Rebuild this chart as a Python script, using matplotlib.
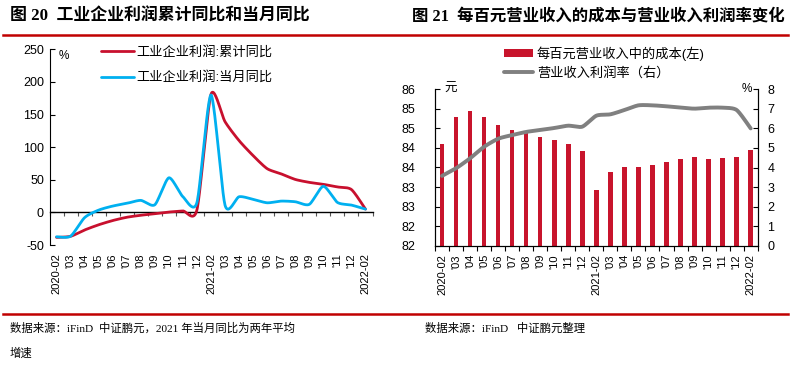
import numpy as np
import matplotlib
matplotlib.use("Agg")
import matplotlib.pyplot as plt
from matplotlib.patches import Patch
from matplotlib.lines import Line2D

plt.rcParams['font.family'] = ['Liberation Sans', 'Noto Sans CJK SC']
plt.rcParams['axes.unicode_minus'] = True

# ---------------- data ----------------
months = ['2020-02', "'03", "'04", "'05", "'06", "'07", "'08", "'09", "'10", "'11", "'12",
          '2021-02', "'03", "'04", "'05", "'06", "'07", "'08", "'09", "'10", "'11", "'12",
          '2022-02']
profit_cum = [-38.3, -36.7, -27.0, -19.0, -12.5, -7.5, -4.4, -2.2, 0.5, 2.2, 4.1,
              181.0, 139.0, 110.0, 87.0, 67.0, 59.0, 50.5, 46.0, 43.0, 39.0, 35.0, 5.0]
profit_month = [-37.4, -36.5, -8.0, 3.5, 9.7, 13.8, 18.4, 11.7, 53.0, 24.0, 15.3,
                180.0, 11.0, 24.0, 20.0, 14.7, 17.3, 16.3, 12.3, 40.0, 15.3, 11.2, 5.0]
cost_per100 = [84.60, 85.29, 85.45, 85.30, 85.09, 84.97, 84.88, 84.77, 84.71, 84.60, 84.42,
               83.43, 83.88, 84.00, 84.00, 84.06, 84.15, 84.21, 84.26, 84.22, 84.25, 84.27, 84.44]
margin = [3.57, 3.96, 4.47, 5.06, 5.47, 5.66, 5.82, 5.92, 6.02, 6.14, 6.09,
          6.65, 6.72, 6.94, 7.18, 7.18, 7.13, 7.06, 7.01, 7.06, 7.06, 6.94, 6.00]
left_yticks = [-50, 0, 50, 100, 150, 200, 250]
right_yticks_l = [82, 82.5, 83, 83.5, 84, 84.5, 85, 85.5, 86]
right_yticklabels_l = ['82', '82', '83', '83', '84', '84', '85', '85', '86']
right_yticks_r = [0, 1, 2, 3, 4, 5, 6, 7, 8]

RED = '#C8102E'
BLUE = '#00B0F0'
GRAY = '#808080'
BAR = '#C8142C'


def smooth(x, y, n=24, k=0.36):
    """Cardinal-spline rendering of a line through the given points."""
    x = np.asarray(x, float)
    y = np.asarray(y, float)
    px = np.concatenate([[x[0]], x, [x[-1]]])
    py = np.concatenate([[y[0]], y, [y[-1]]])
    t = np.linspace(0, 1, n, endpoint=False)
    h00 = 2 * t ** 3 - 3 * t ** 2 + 1
    h10 = t ** 3 - 2 * t ** 2 + t
    h01 = -2 * t ** 3 + 3 * t ** 2
    h11 = t ** 3 - t ** 2
    xs, ys = [], []
    for i in range(1, len(px) - 2):
        for p, out in ((px, xs), (py, ys)):
            p0, p1, p2, p3 = p[i - 1], p[i], p[i + 1], p[i + 2]
            m1 = k * (p2 - p0)
            m2 = k * (p3 - p1)
            out.append(h00 * p1 + h10 * m1 + h01 * p2 + h11 * m2)
    xs.append([x[-1]])
    ys.append([y[-1]])
    return np.concatenate(xs), np.concatenate(ys)


fig = plt.figure(figsize=(7.9, 3.7), dpi=100)
W, H = 790, 370


def fx(px):
    return px / W


def fy(py):
    return 1 - py / H


x = np.arange(len(months))

# ---------------- titles & rules ----------------
title_font = ['Liberation Serif', 'Noto Sans CJK SC']
fig.text(fx(10), fy(17), '图 20  工业企业利润累计同比和当月同比', fontsize=12.2, fontweight='bold',
         family=title_font, va='center', ha='left')
fig.text(fx(412), fy(17), '图 21  每百元营业收入的成本与营业收入利润率变化', fontsize=11.8, fontweight='bold',
         family=title_font, va='center', ha='left')
fig.add_artist(Line2D([fx(3), fx(788)], [fy(35), fy(35)], color='#C00000', lw=1.8))
fig.add_artist(Line2D([fx(3), fx(788)], [fy(314), fy(314)], color='#C00000', lw=1.8))

src_font = ['Liberation Serif', 'Noto Sans CJK SC']
fig.text(fx(10), fy(328), '数据来源：iFinD  中证鹏元，2021 年当月同比为两年平均', fontsize=8.2,
         family=src_font, va='center', ha='left')
fig.text(fx(10), fy(353), '增速', fontsize=8.2, family=src_font, va='center', ha='left')
fig.text(fx(425), fy(328), '数据来源：iFinD   中证鹏元整理', fontsize=8.2,
         family=src_font, va='center', ha='left')

# ---------------- left chart ----------------
ax1 = fig.add_axes([fx(49.5), fy(245), fx(372.5) - fx(49.5), fy(49.3) - fy(245)])
ax1.set_xlim(-0.5, len(months) - 0.5)
ax1.set_ylim(-50, 250)
xs, ys = smooth(x, profit_cum)
l1, = ax1.plot(xs, ys, color=RED, lw=2.0, solid_capstyle='round', zorder=3)
xs, ys = smooth(x, profit_month)
l2, = ax1.plot(xs, ys, color=BLUE, lw=2.0, solid_capstyle='round', zorder=4)
for s in ('top', 'right', 'bottom'):
    ax1.spines[s].set_visible(False)
ax1.spines['left'].set_linewidth(0.8)
ax1.set_yticks(left_yticks)
ax1.set_yticklabels([str(v) for v in left_yticks])
ax1.tick_params(axis='y', direction='in', length=3.5, width=0.8, labelsize=9, pad=4)
ax1.set_xticks(x)
ax1.set_xticklabels(months, rotation=90, fontsize=8)
ax1.tick_params(axis='x', length=0, pad=6)
sec = ax1.secondary_xaxis(50 / 300)
sec.set_xticks(np.arange(-0.5, len(months) + 0.5, 1.0))
sec.set_xticklabels([])
sec.tick_params(axis='x', direction='out', length=3, width=0.8, color='#555555')
sec.spines['bottom'].set_linewidth(1.0)
ax1.text(0.045, 0.965, '%', transform=ax1.transAxes, fontsize=8.5, ha='center', va='center')
leg1 = ax1.legend([l1, l2], ['工业企业利润:累计同比', '工业企业利润:当月同比'],
                  loc='upper left', bbox_to_anchor=(fx(101), fy(46)), bbox_transform=fig.transFigure,
                  frameon=False, fontsize=9.5, handlelength=2.5, handletextpad=0.2,
                  labelspacing=0.95, borderpad=0, borderaxespad=0)

# ---------------- right chart ----------------
ax2 = fig.add_axes([fx(435), fy(245.7), fx(757.7) - fx(435), fy(89.3) - fy(245.7)])
ax2.set_xlim(-0.5, len(months) - 0.5)
ax2.set_ylim(82, 86)
bars = ax2.bar(x, np.array(cost_per100) - 82, bottom=82, width=0.32, color=BAR, zorder=2)
ax2.set_yticks(right_yticks_l)
ax2.set_yticklabels(right_yticklabels_l)
ax2.tick_params(axis='y', direction='in', length=3.5, width=0.8, labelsize=9, pad=14)
ax2.set_xticks(x)
ax2.set_xticklabels(months, rotation=90, fontsize=8)
ax2.tick_params(axis='x', which='major', length=0, pad=6)
ax2.set_xticks(np.arange(-0.5, len(months) + 0.5, 1.0), minor=True)
ax2.tick_params(axis='x', which='minor', direction='out', length=3.5, width=0.8)
ax2.spines['top'].set_visible(False)
for s in ('left', 'right', 'bottom'):
    ax2.spines[s].set_linewidth(0.8)

ax3 = ax2.twinx()
ax3.set_ylim(0, 8)
xs, ys = smooth(x, margin)
l3, = ax3.plot(xs, ys, color=GRAY, lw=2.8, solid_capstyle='round', zorder=3)
ax3.set_yticks(right_yticks_r)
ax3.set_yticklabels([str(v) for v in right_yticks_r])
ax3.tick_params(axis='y', direction='in', length=3.5, width=0.8, labelsize=9, pad=7)
ax3.spines['top'].set_visible(False)
ax3.spines['right'].set_linewidth(0.8)
ax2.text(0.03, 1.0, '元', transform=ax2.transAxes, fontsize=9, ha='left', va='center')
ax3.text(0.965, 1.0, '%', transform=ax3.transAxes, fontsize=8.5, ha='center', va='center')

leg2 = ax2.legend([Patch(facecolor=BAR), l3], ['每百元营业收入中的成本(左)', '营业收入利润率（右）'],
                  loc='upper left', bbox_to_anchor=(fx(504), fy(46)), bbox_transform=fig.transFigure,
                  frameon=False, fontsize=9.5, handlelength=2.2, handleheight=0.55, handletextpad=0.3,
                  labelspacing=0.45, borderpad=0, borderaxespad=0)

fig.savefig('out.png', dpi=100)
